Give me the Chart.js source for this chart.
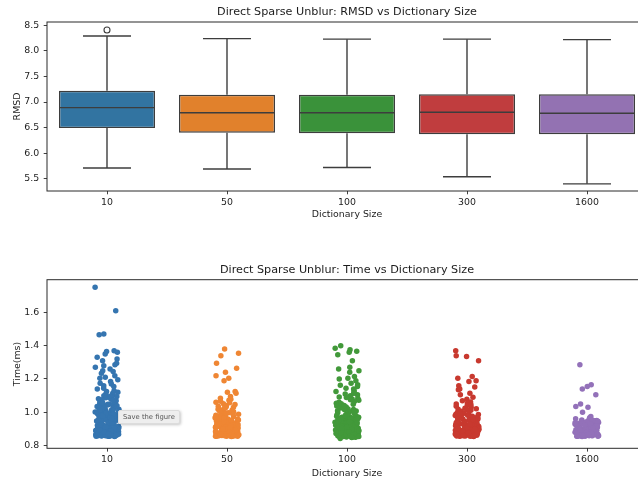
<!DOCTYPE html>
<html>
<head>
<meta charset="utf-8">
<script src="https://cdn.jsdelivr.net/npm/chart.js@4.4.1/dist/chart.umd.min.js"></script>
<style>
  html, body { margin: 0; padding: 0; background: #fff; overflow: hidden; }
  #wrap { position: relative; width: 638px; height: 482px; overflow: hidden; background: #fff; }
  canvas { position: absolute; left: 0; }
  #rmsdChart { top: 0; }
  #timeChart { top: 226px; }
  .tip { position: absolute; left: 118px; top: 410px; width: 62px; height: 14px; box-sizing: border-box;
         background: #eeeeee; border: 1px solid #dcdcdc; border-radius: 2px;
         box-shadow: 1px 1px 3px rgba(0,0,0,0.22);
         font: 6.8px "DejaVu Sans", sans-serif; color: #555; line-height: 12px; text-align: center; }
</style>
</head>
<body>
<div id="wrap">
  <canvas id="rmsdChart" width="660" height="226"></canvas>
  <canvas id="timeChart" width="660" height="256"></canvas>
  <div class="tip">Save the figure</div>
</div>
<script>
// ---- data ----
const categories = ['10', '50', '100', '300', '1600'];

// RMSD box statistics per dictionary size
const rmsdWhiskerLow  = [5.71, 5.69, 5.72, 5.54, 5.40];
const rmsdQ1          = [6.49, 6.40, 6.39, 6.37, 6.37];
const rmsdMedian      = [6.89, 6.79, 6.79, 6.80, 6.78];
const rmsdQ3          = [7.22, 7.14, 7.14, 7.15, 7.15];
const rmsdWhiskerHigh = [8.29, 8.24, 8.23, 8.23, 8.22];
const rmsdOutliers    = [[8.41], [], [], [], []];
const rmsdTicks = [5.5, 6.0, 6.5, 7.0, 7.5, 8.0, 8.5];

// Time (ms) per run, per dictionary size
const time10 = [1.75, 1.61, 1.47, 1.465, 1.37, 1.365, 1.36, 1.35, 1.33, 1.32, 1.31, 1.295, 1.285, 1.28, 1.27, 1.26, 1.25, 1.245, 1.235, 1.22, 1.21, 1.205, 1.195, 1.185, 1.175, 1.17, 1.16, 1.155, 1.145, 1.14, 1.13, 1.125, 1.12, 1.115, 1.11, 1.105, 1.1, 1.095, 1.09, 1.088, 1.082, 1.078, 1.075, 1.07, 1.066, 1.062, 1.06, 1.055, 1.052, 1.048, 1.045, 1.041, 1.038, 1.035, 1.031, 1.028, 1.025, 1.022, 1.018, 1.015, 1.012, 1.008, 1.005, 1.002,
  0.998, 0.995, 0.992, 0.99, 0.987, 0.985, 0.982, 0.98, 0.977, 0.975, 0.972, 0.97, 0.967, 0.965, 0.962, 0.96, 0.958, 0.955, 0.953, 0.95, 0.948, 0.946, 0.943, 0.941, 0.939, 0.936, 0.934, 0.932, 0.93, 0.928, 0.925, 0.923, 0.921, 0.919, 0.917, 0.915, 0.913, 0.911, 0.909, 0.907, 0.905, 0.903, 0.901, 0.899, 0.898, 0.896, 0.894, 0.892, 0.891, 0.889, 0.887, 0.886, 0.884, 0.883, 0.881, 0.88, 0.878, 0.877, 0.876, 0.874, 0.873, 0.872, 0.87, 0.869, 0.868, 0.867, 0.866, 0.865, 0.864, 0.863, 0.862, 0.861, 0.86, 0.859, 0.858, 0.857, 0.856, 0.856, 0.855,
  0.993, 0.979, 0.968, 0.957, 0.944, 0.931, 0.92, 0.91, 0.9, 0.893, 0.885, 0.879, 0.871, 0.866, 0.861, 0.857, 0.983, 0.961, 0.937, 0.916, 0.902, 0.888, 0.875, 0.864, 0.858, 0.973, 0.949, 0.926, 0.906, 0.89, 0.878, 0.868, 0.86, 0.955, 0.912, 0.882, 0.862, 0.871, 0.895, 0.935, 0.988,
  1.064, 1.044, 1.026, 1.011, 0.996, 0.981, 1.086, 1.033, 1.003, 1.097, 1.058, 1.039, 1.019, 1.007, 0.991, 0.976, 1.073, 1.049, 1.014, 0.963];
const time50 = [1.38, 1.355, 1.34, 1.295, 1.265, 1.24, 1.22, 1.205, 1.19, 1.125, 1.12, 1.115, 1.095, 1.085, 1.078, 1.072, 1.066, 1.058, 1.052, 1.047, 1.041, 1.036, 1.03, 1.024, 1.019, 1.013, 1.008, 1.003, 0.998, 0.993, 0.988, 0.984, 0.979, 0.975,
  0.971, 0.968, 0.966, 0.962, 0.96, 0.957, 0.954, 0.951, 0.949, 0.946, 0.944, 0.941, 0.938, 0.936, 0.933, 0.931, 0.929, 0.926, 0.924, 0.922, 0.919, 0.917, 0.915, 0.913, 0.911, 0.909, 0.907, 0.905, 0.903, 0.901, 0.9, 0.898, 0.896, 0.894, 0.893, 0.891, 0.889, 0.888, 0.886, 0.885, 0.883, 0.882, 0.88, 0.879, 0.877, 0.876, 0.875, 0.873, 0.872, 0.871, 0.869, 0.868, 0.867, 0.866, 0.865, 0.864, 0.863, 0.862, 0.861, 0.86, 0.859, 0.858, 0.857, 0.856, 0.855,
  0.964, 0.948, 0.935, 0.921, 0.908, 0.897, 0.887, 0.878, 0.87, 0.864, 0.859, 0.856, 0.958, 0.94, 0.927, 0.914, 0.902, 0.892, 0.884, 0.874, 0.867, 0.861, 0.857, 0.952, 0.932, 0.918, 0.906, 0.895, 0.881, 0.872, 0.865, 0.86, 0.943, 0.91, 0.89, 0.876, 0.863, 0.969, 0.925, 0.899, 0.868, 0.858,
  1.034, 1.016, 0.996, 0.982, 1.061, 1.027, 1.006, 0.989];
const time100 = [1.40, 1.385, 1.375, 1.366, 1.36, 1.345, 1.31, 1.27, 1.26, 1.25, 1.24, 1.215, 1.205, 1.2, 1.19, 1.175, 1.165, 1.155, 1.145, 1.14, 1.13, 1.125, 1.115, 1.11, 1.105, 1.1, 1.092, 1.085, 1.08, 1.072, 1.065, 1.06, 1.054, 1.048, 1.044, 1.038, 1.032, 1.026, 1.02, 1.015, 1.01, 1.004, 0.999, 0.994, 0.989, 0.984, 0.979, 0.843,
  0.976, 0.973, 0.97, 0.967, 0.964, 0.961, 0.958, 0.955, 0.953, 0.95, 0.947, 0.945, 0.942, 0.94, 0.937, 0.935, 0.932, 0.93, 0.928, 0.925, 0.923, 0.921, 0.918, 0.916, 0.914, 0.912, 0.91, 0.908, 0.906, 0.904, 0.902, 0.9, 0.898, 0.896, 0.895, 0.893, 0.891, 0.889, 0.888, 0.886, 0.884, 0.883, 0.881, 0.88, 0.878, 0.877, 0.875, 0.874, 0.872, 0.871, 0.87, 0.868, 0.867, 0.866, 0.864, 0.863, 0.862, 0.861, 0.86, 0.858, 0.857, 0.856, 0.855, 0.853, 0.852, 0.85, 0.849,
  0.971, 0.956, 0.943, 0.929, 0.917, 0.905, 0.894, 0.885, 0.876, 0.869, 0.862, 0.855, 0.962, 0.948, 0.933, 0.92, 0.909, 0.897, 0.887, 0.879, 0.871, 0.865, 0.859, 0.852, 0.965, 0.938, 0.915, 0.899, 0.882, 0.873, 0.86, 0.854, 0.951, 0.926, 0.903, 0.89, 0.866, 0.857, 0.944, 0.911, 0.878, 0.851,
  1.024, 1.008, 0.992, 1.052, 1.017, 0.986, 1.118, 1.076, 1.041, 1.003, 0.981, 1.162, 1.089];
const time300 = [1.37, 1.34, 1.335, 1.31, 1.215, 1.205, 1.19, 1.185, 1.16, 1.152, 1.14, 1.135, 1.115, 1.105, 1.09, 1.078, 1.07, 1.062, 1.055, 1.05, 1.043, 1.037, 1.03, 1.024, 1.018, 1.012, 1.006, 1.0, 0.995,
  0.99, 0.987, 0.984, 0.981, 0.978, 0.975, 0.972, 0.969, 0.966, 0.963, 0.96, 0.958, 0.955, 0.952, 0.95, 0.947, 0.945, 0.942, 0.94, 0.937, 0.935, 0.932, 0.93, 0.928, 0.925, 0.923, 0.921, 0.918, 0.916, 0.914, 0.912, 0.91, 0.908, 0.906, 0.904, 0.902, 0.9, 0.898, 0.896, 0.894, 0.893, 0.891, 0.889, 0.887, 0.886, 0.884, 0.883, 0.881, 0.879, 0.878, 0.877, 0.875, 0.874, 0.872, 0.871, 0.87, 0.868, 0.867, 0.866, 0.865, 0.864, 0.863, 0.862, 0.861, 0.86, 0.859, 0.858, 0.857, 0.856, 0.855,
  0.982, 0.964, 0.948, 0.933, 0.919, 0.907, 0.895, 0.885, 0.876, 0.869, 0.863, 0.858, 0.976, 0.954, 0.938, 0.922, 0.909, 0.897, 0.888, 0.88, 0.873, 0.866, 0.86, 0.856, 0.968, 0.943, 0.926, 0.911, 0.899, 0.882, 0.87, 0.861, 0.986, 0.957, 0.929, 0.903, 0.876, 0.859,
  1.021, 1.009, 0.997, 1.046, 1.014, 0.993];
const time1600 = [1.285, 1.165, 1.155, 1.14, 1.105, 1.05, 1.035, 1.03, 1.0, 0.975, 0.968, 0.962,
  0.957, 0.954, 0.951, 0.949, 0.946, 0.944, 0.941, 0.939, 0.937, 0.934, 0.932, 0.93, 0.928, 0.926, 0.924, 0.922, 0.92, 0.918, 0.916, 0.914, 0.912, 0.91, 0.909, 0.907, 0.905, 0.903, 0.902, 0.9, 0.898, 0.897, 0.895, 0.894, 0.892, 0.891, 0.889, 0.888, 0.886, 0.885, 0.884, 0.882, 0.881, 0.88, 0.878, 0.877, 0.876, 0.875, 0.873, 0.872, 0.871, 0.87, 0.869, 0.868, 0.867, 0.866, 0.865, 0.864, 0.863, 0.862, 0.861, 0.86, 0.859, 0.858, 0.857, 0.856, 0.855,
  0.95, 0.936, 0.923, 0.911, 0.901, 0.893, 0.883, 0.874, 0.867, 0.862, 0.857, 0.943, 0.929, 0.917, 0.906, 0.896, 0.887, 0.879, 0.87, 0.864, 0.858, 0.953, 0.925, 0.904, 0.89, 0.876, 0.865, 0.86, 0.938, 0.913, 0.899, 0.881, 0.868, 0.856,
  0.947, 0.931, 0.919, 0.908, 0.892, 0.88, 0.869, 0.861];
const timeSeries = [time10, time50, time100, time300, time1600];
const timeTicks = [0.8, 1.0, 1.2, 1.4, 1.6];

// ---- styling ----
const boxColors   = ['#3274a1', '#e1812c', '#3a923a', '#c03d3e', '#9372b2'];
const pointColors = ['#3575b0', '#ef8633', '#42993a', '#c8392f', '#9371b9'];
const boxLine  = '#3d3d3d';
const inkColor = '#1c1c1c';
const tickFont = { family: "'DejaVu Sans', sans-serif", size: 9.4 };

Chart.defaults.font.family = "'DejaVu Sans', sans-serif";
Chart.defaults.color = inkColor;

const fixedTicks = values => scale => { scale.ticks = values.map(v => ({ value: v })); };

// axes frame + title above the plotting area
const framePlugin = {
  id: 'frame',
  afterDraw(chart, args, opts) {
    const { ctx, chartArea: a } = chart;
    ctx.save();
    ctx.strokeStyle = '#2b2b2b';
    ctx.lineWidth = 1;
    ctx.strokeRect(a.left, a.top, a.right - a.left, a.bottom - a.top);
    ctx.fillStyle = inkColor;
    ctx.font = "11.2px 'DejaVu Sans', sans-serif";
    ctx.textAlign = 'center';
    ctx.textBaseline = 'middle';
    ctx.fillText(opts.text, (a.left + a.right) / 2, a.top - 9.6);
    ctx.restore();
  }
};

// whiskers, caps and medians of the box plot
const whiskerPlugin = {
  id: 'whiskers',
  afterDatasetsDraw(chart) {
    const { ctx, scales: { x, y } } = chart;
    const step = x.getPixelForValue(1) - x.getPixelForValue(0);
    const halfBox = step * 0.4, halfCap = step * 0.2;
    const seg = (x1, y1, x2, y2) => { ctx.beginPath(); ctx.moveTo(x1, y1); ctx.lineTo(x2, y2); ctx.stroke(); };
    ctx.save();
    ctx.strokeStyle = boxLine;
    ctx.lineWidth = 1.4;
    categories.forEach((c, i) => {
      const cx = x.getPixelForValue(i);
      const yHi = y.getPixelForValue(rmsdWhiskerHigh[i]);
      const yLo = y.getPixelForValue(rmsdWhiskerLow[i]);
      seg(cx, y.getPixelForValue(rmsdQ3[i]), cx, yHi);
      seg(cx, y.getPixelForValue(rmsdQ1[i]), cx, yLo);
      seg(cx - halfCap, yHi, cx + halfCap, yHi);
      seg(cx - halfCap, yLo, cx + halfCap, yLo);
      const yMed = y.getPixelForValue(rmsdMedian[i]);
      seg(cx - halfBox, yMed, cx + halfBox, yMed);
    });
    ctx.restore();
  }
};

const axisGrid = { display: true, drawOnChartArea: false, drawTicks: true, tickLength: 3.3, tickColor: '#2b2b2b', tickWidth: 0.9 };

// ---- RMSD box plot ----
const maxOutliers = Math.max(...rmsdOutliers.map(o => o.length));
const outlierSets = [];
for (let k = 0; k < maxOutliers; k++) {
  outlierSets.push({
    type: 'line',
    data: rmsdOutliers.map(o => (o.length > k ? o[k] : null)),
    showLine: false,
    pointRadius: 3,
    pointBorderWidth: 1.1,
    pointBorderColor: boxLine,
    pointBackgroundColor: 'rgba(0,0,0,0)'
  });
}

new Chart(document.getElementById('rmsdChart'), {
  data: {
    labels: categories,
    datasets: [
      {
        type: 'bar',
        data: categories.map((c, i) => [rmsdQ1[i], rmsdQ3[i]]),
        backgroundColor: boxColors,
        borderColor: boxLine,
        borderWidth: 1.4,
        borderSkipped: false,
        categoryPercentage: 0.8,
        barPercentage: 1.0
      },
      ...outlierSets
    ]
  },
  options: {
    responsive: false,
    animation: false,
    devicePixelRatio: 1,
    events: [],
    layout: { padding: { top: 22, left: 0, right: 13, bottom: 0 } },
    plugins: {
      legend: { display: false },
      tooltip: { enabled: false },
      frame: { text: 'Direct Sparse Unblur: RMSD vs Dictionary Size' }
    },
    scales: {
      x: {
        type: 'category',
        offset: true,
        grid: { ...axisGrid, offset: false },
        border: { display: false },
        ticks: { padding: 2.5, font: tickFont, color: inkColor, maxRotation: 0 },
        title: { display: true, text: 'Dictionary Size', font: tickFont, color: inkColor, padding: { top: 0, bottom: 5.4 } },
        afterFit(s) { s.height = 35; }
      },
      y: {
        type: 'linear',
        min: 5.26, max: 8.565,
        bounds: 'data',
        afterBuildTicks: fixedTicks(rmsdTicks),
        grid: axisGrid,
        border: { display: false },
        ticks: { padding: 4.5, font: tickFont, color: inkColor, callback: v => v.toFixed(1) },
        title: { display: true, text: 'RMSD', font: tickFont, color: inkColor, padding: { top: 11.7, bottom: 0 } },
        afterFit(s) { s.width = 47; }
      }
    }
  },
  plugins: [whiskerPlugin, framePlugin]
});

// ---- Time strip plot ----
// fixed horizontal spread of the points around each category centre:
// a golden-ratio sweep, scrambled a little so neighbours do not line up
function scramble(n) {
  n = Math.imul(n ^ (n >>> 16), 0x45d9f3b);
  n = Math.imul(n ^ (n >>> 16), 0x45d9f3b);
  n = n ^ (n >>> 16);
  return (n >>> 0) / 4294967296;
}
const spread = (i, ci) => {
  const u = i * 0.6180339887 + 0.45 * scramble(i * 131 + ci * 7919 + 17);
  return (u - Math.floor(u) - 0.5) * 0.2;
};

new Chart(document.getElementById('timeChart'), {
  type: 'scatter',
  data: {
    datasets: timeSeries.map((vals, ci) => ({
      data: vals.map((v, i) => ({ x: ci + spread(i, ci), y: v })),
      backgroundColor: pointColors[ci],
      borderWidth: 0,
      pointRadius: 2.75
    }))
  },
  options: {
    responsive: false,
    animation: false,
    devicePixelRatio: 1,
    events: [],
    layout: { padding: { top: 53.7, left: 0, right: 13, bottom: 0 } },
    plugins: {
      legend: { display: false },
      tooltip: { enabled: false },
      frame: { text: 'Direct Sparse Unblur: Time vs Dictionary Size' }
    },
    scales: {
      x: {
        type: 'linear',
        min: -0.5, max: 4.5,
        bounds: 'data',
        afterBuildTicks: fixedTicks(categories.map((c, i) => i)),
        grid: axisGrid,
        border: { display: false },
        ticks: { padding: 2.5, font: tickFont, color: inkColor, maxRotation: 0, callback: v => categories[v] },
        title: { display: true, text: 'Dictionary Size', font: tickFont, color: inkColor, padding: { top: 0, bottom: 2.4 } },
        afterFit(s) { s.height = 33.7; }
      },
      y: {
        type: 'linear',
        min: 0.784, max: 1.796,
        bounds: 'data',
        afterBuildTicks: fixedTicks(timeTicks),
        grid: axisGrid,
        border: { display: false },
        ticks: { padding: 4.5, font: tickFont, color: inkColor, callback: v => v.toFixed(1) },
        title: { display: true, text: 'Time(ms)', font: tickFont, color: inkColor, padding: { top: 11.7, bottom: 0 } },
        afterFit(s) { s.width = 47; }
      }
    }
  },
  plugins: [framePlugin]
});
</script>
</body>
</html>
